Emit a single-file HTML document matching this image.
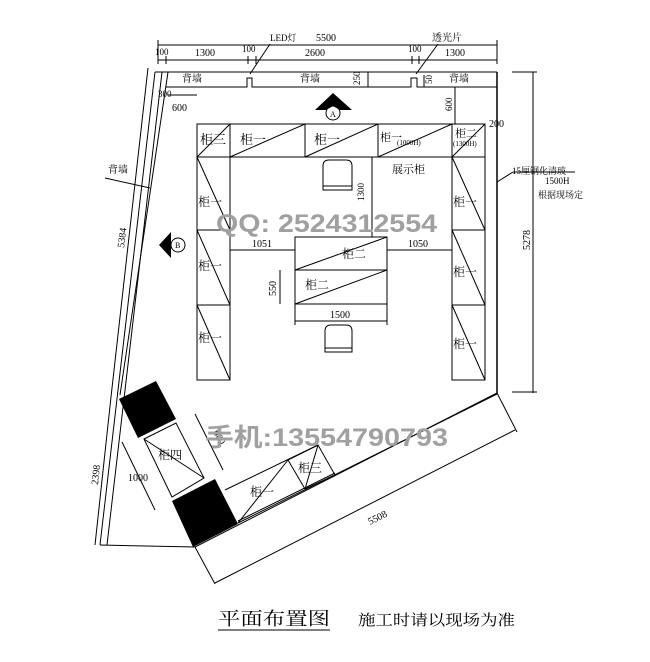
<!DOCTYPE html>
<html><head><meta charset="utf-8"><style>
html,body{margin:0;padding:0;background:#fff;}
svg{display:block;}
text{font-family:"Liberation Serif","Noto Serif CJK SC","Noto Sans CJK SC",serif;fill:#000;}
.s{font-family:"Liberation Sans","Noto Sans CJK SC",sans-serif;}
</style></head><body>
<svg width="650" height="662" viewBox="0 0 650 662" xmlns="http://www.w3.org/2000/svg">
<g stroke="#000" stroke-width="1" fill="none">
<line x1="158" y1="45" x2="497" y2="45"/>
<line x1="158" y1="60" x2="497" y2="60"/>
<line x1="158" y1="40" x2="158" y2="64"/><line x1="497" y1="40" x2="497" y2="64"/>
<line x1="166" y1="56" x2="166" y2="64"/><line x1="248" y1="56" x2="248" y2="64"/><line x1="256" y1="56" x2="256" y2="64"/>
<line x1="412" y1="56" x2="412" y2="64"/><line x1="419" y1="56" x2="419" y2="64"/>
<line x1="270" y1="44" x2="250" y2="74"/><line x1="438" y1="44" x2="416" y2="74"/>
<polyline points="155,72 497,72"/>
<polyline points="166,87 247,87 247,78 252,78 252,87 411,87 411,78 417,78 417,87 497,87"/>
<line x1="368" y1="72" x2="368" y2="87"/>
<line x1="424" y1="75" x2="424" y2="87"/>
<line x1="497" y1="72" x2="497" y2="393" stroke-width="1.5"/>
<line x1="533" y1="72" x2="533" y2="393"/>
<line x1="512" y1="72" x2="537" y2="72"/><line x1="512" y1="392" x2="537" y2="392"/>
<line x1="497" y1="182" x2="513" y2="172"/><line x1="513" y1="172" x2="575" y2="172"/>
<line x1="155" y1="72" x2="100" y2="545"/>
<line x1="162" y1="72" x2="107" y2="545"/>
<line x1="168" y1="72" x2="120" y2="395"/>
<line x1="148" y1="68" x2="111" y2="397"/>
<line x1="111" y1="397" x2="95" y2="545"/>
<line x1="100" y1="545" x2="195" y2="547"/>
<line x1="168" y1="95" x2="197" y2="95"/>
<line x1="105" y1="178" x2="150" y2="188"/>
<line x1="195" y1="547" x2="497" y2="393"/>
<line x1="238" y1="523" x2="497" y2="394"/>
<line x1="195" y1="547" x2="215" y2="584"/><line x1="497" y1="393" x2="517" y2="432"/>
<line x1="215" y1="583" x2="515" y2="430"/>
<line x1="225" y1="490" x2="318" y2="445"/>
<polygon points="288,460 318,445 335,475 305,489"/>
<line x1="238" y1="523" x2="288" y2="460"/>
<line x1="318" y1="445" x2="305" y2="489"/>
<line x1="238" y1="521" x2="335" y2="473"/>
<polygon points="144,439 176,423 204,478 172,497"/>
<line x1="144" y1="439" x2="204" y2="478"/>
<line x1="122" y1="442" x2="155" y2="510"/>
<line x1="195" y1="414" x2="223" y2="470"/>
<rect x="197" y="124" width="288" height="33"/>
<line x1="230" y1="124" x2="230" y2="157"/><line x1="305" y1="124" x2="305" y2="157"/>
<line x1="378" y1="124" x2="378" y2="157"/><line x1="452" y1="124" x2="452" y2="157"/>
<line x1="230" y1="124" x2="197" y2="157"/><line x1="305" y1="124" x2="230" y2="157"/>
<line x1="378" y1="124" x2="305" y2="157"/><line x1="452" y1="124" x2="378" y2="157"/>
<line x1="485" y1="124" x2="452" y2="157"/>
<rect x="197" y="157" width="33" height="223"/>
<line x1="197" y1="230" x2="230" y2="230"/><line x1="197" y1="305" x2="230" y2="305"/>
<line x1="197" y1="157" x2="230" y2="230"/><line x1="197" y1="230" x2="230" y2="305"/><line x1="197" y1="305" x2="230" y2="380"/>
<rect x="452" y="157" width="33" height="223"/>
<line x1="452" y1="230" x2="485" y2="230"/><line x1="452" y1="305" x2="485" y2="305"/>
<line x1="452" y1="157" x2="485" y2="230"/><line x1="452" y1="230" x2="485" y2="305"/><line x1="452" y1="305" x2="485" y2="380"/>
<line x1="372" y1="157" x2="372" y2="237"/>
<line x1="455" y1="87" x2="455" y2="124"/>
<rect x="295" y="237" width="92" height="67"/>
<line x1="295" y1="270" x2="387" y2="270"/>
<line x1="295" y1="270" x2="387" y2="237"/><line x1="295" y1="304" x2="387" y2="270"/>
<line x1="230" y1="250" x2="295" y2="250"/><line x1="387" y1="250" x2="452" y2="250"/>
<line x1="280" y1="270" x2="280" y2="304"/>
<line x1="295" y1="321" x2="387" y2="321"/>
<line x1="295" y1="304" x2="295" y2="325"/><line x1="387" y1="304" x2="387" y2="325"/>
<path d="M323,190 V166 Q323,160 329,160 H346 Q352,160 352,166 V190 Z M323,186 H352"/>
<path d="M325,352 V331 Q325,325 331,325 H346 Q352,325 352,331 V352 Z M325,348 H352"/>
<circle cx="333" cy="113" r="7" fill="#fff"/>
<circle cx="178" cy="245" r="7" fill="#fff"/>
<line x1="218" y1="630" x2="330" y2="630"/>
</g>
<polygon points="315,110 333,93 352,110 340,110 333,106 326,110" fill="#000"/>
<polygon points="159,245 171,232 171,258" fill="#000"/>
<polygon points="119,399 156,381 176,419 138,438" fill="#000"/>
<polygon points="172,501 215,479 238,524 193,547" fill="#000"/>
<g font-size="10">
<text x="155" y="55" font-size="9">100</text>
<text x="195" y="56">1300</text>
<text x="242" y="52" font-size="9">100</text>
<text x="305" y="56">2600</text>
<text x="408" y="52" font-size="9">100</text>
<text x="445" y="56">1300</text>
<text x="270" y="41" font-size="9">LED灯</text>
<text x="316" y="41">5500</text>
<text x="432" y="41">透光片</text>
<text x="182" y="82">背墙</text>
<text x="300" y="82">背墙</text>
<text x="449" y="82">背墙</text>
<text x="108" y="173">背墙</text>
<text x="158" y="97" font-size="9">300</text>
<text x="172" y="111">600</text>
<text x="489" y="127">200</text>
<text x="512" y="174" font-size="9">15厘钢化清玻</text>
<text x="545" y="184" font-size="9">1500H</text>
<text x="538" y="198" font-size="9">根据现场定</text>
<text x="330" y="117" font-size="8">A</text>
<text x="175" y="248" font-size="8">B</text>
<text x="200" y="144" font-size="13">柜三</text>
<text x="240" y="144" font-size="13">柜一</text>
<text x="314" y="144" font-size="13">柜一</text>
<text x="380" y="141" font-size="11">柜一</text><text x="397" y="145" font-size="7">(1000H)</text>
<text x="455" y="137" font-size="11">柜二</text><text x="453" y="146" font-size="7">(1300H)</text>
<text x="392" y="173" font-size="11">展示柜</text>
<text x="198" y="206" font-size="12">柜一</text><text x="198" y="270" font-size="12">柜一</text><text x="198" y="342" font-size="12">柜一</text>
<text x="453" y="206" font-size="12">柜一</text><text x="453" y="276" font-size="12">柜一</text><text x="453" y="348" font-size="12">柜一</text>
<text x="342" y="258" font-size="12">柜二</text><text x="305" y="289" font-size="12">柜二</text>
<text x="252" y="247">1051</text><text x="408" y="247">1050</text>
<text x="330" y="318">1500</text>
<text x="158" y="459" font-size="12">柜四</text>
<text x="250" y="496" font-size="12">柜一</text>
<text x="298" y="472" font-size="12">柜三</text>
<text x="128" y="481">1000</text>
<text transform="translate(364,201) rotate(-90)" font-size="9">1300</text>
<text transform="translate(360,85) rotate(-90)" font-size="9">250</text>
<text transform="translate(432,84) rotate(-90)" font-size="9">50</text>
<text transform="translate(452,111) rotate(-90)" font-size="9">600</text>
<text transform="translate(276,296) rotate(-90)">550</text>
<text transform="translate(530,250) rotate(-90)">5278</text>
<text transform="translate(124,248) rotate(-83)">5384</text>
<text transform="translate(98,485) rotate(-84)">2398</text>
<text transform="translate(213,432) rotate(63)">600</text>
<text transform="translate(370,525) rotate(-27)">5508</text>
</g>
<text class="s" x="216" y="232" font-size="25" font-weight="bold" style="fill:#a0a0a0" textLength="221" lengthAdjust="spacingAndGlyphs">QQ: 2524312554</text>
<text class="s" x="205" y="446" font-size="25" font-weight="bold" style="fill:#a0a0a0" textLength="243" lengthAdjust="spacingAndGlyphs">手机:13554790793</text>
<text x="218" y="625" font-size="18" textLength="112" lengthAdjust="spacingAndGlyphs">平面布置图</text>
<text x="358" y="625" font-size="15" textLength="157" lengthAdjust="spacingAndGlyphs">施工时请以现场为准</text>
</svg>
</body></html>
